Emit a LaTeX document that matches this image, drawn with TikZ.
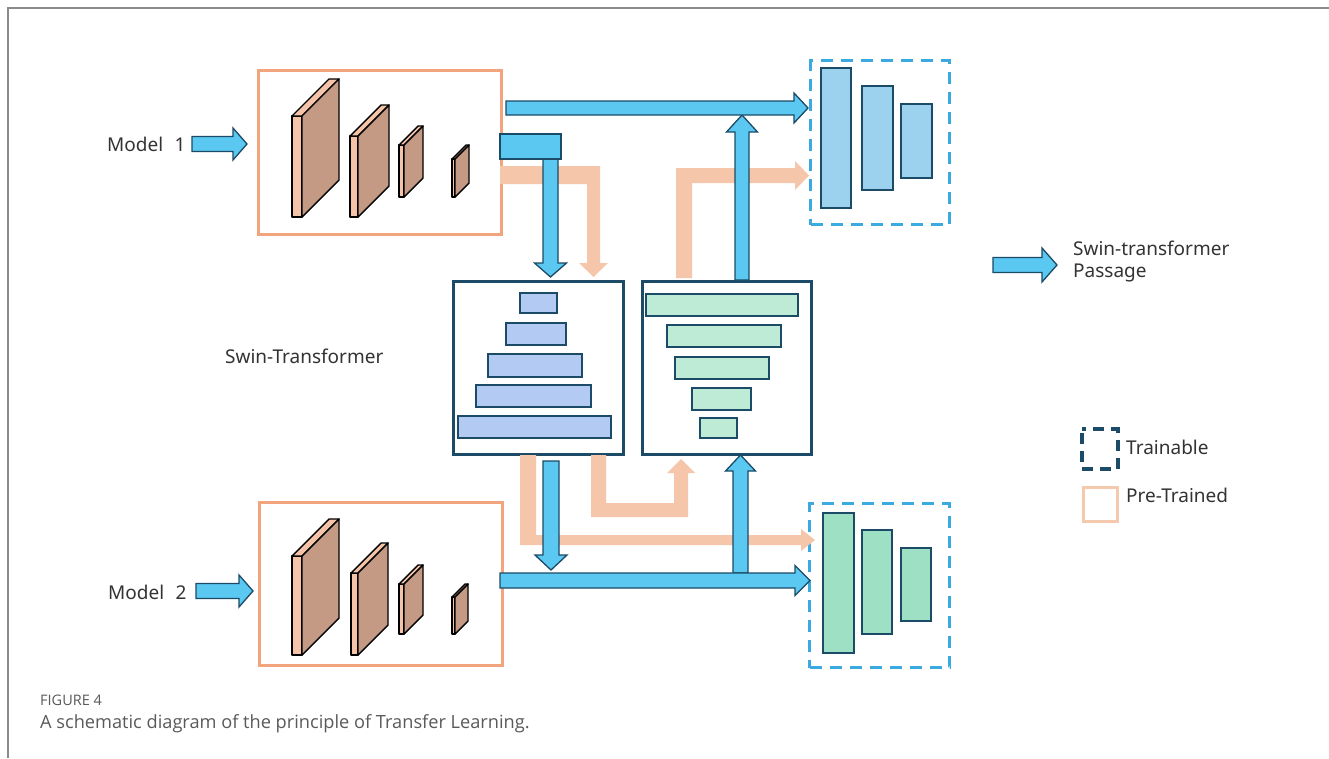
\documentclass[tikz,border=0pt]{standalone}
\usepackage{fontspec}
\setmainfont{Noto Sans}
\newfontfamily\capfont{Open Sans}
\definecolor{arrowblue}{HTML}{5BC8F2}
\definecolor{navy}{HTML}{1B4B66}
\definecolor{boxpeach}{HTML}{F2A57C}
\definecolor{flowpeach}{HTML}{F5C6AA}
\definecolor{layerpink}{HTML}{F5C3A8}
\definecolor{layerbrown}{HTML}{C49A85}
\definecolor{encbar}{HTML}{B3CBF2}
\definecolor{decbar}{HTML}{BDEBD5}
\definecolor{topbar}{HTML}{9DD2EE}
\definecolor{botbar}{HTML}{9EE0C3}
\definecolor{dashblue}{HTML}{3AAAE0}
\definecolor{legpeach}{HTML}{F5C9AE}
\definecolor{framegray}{HTML}{8A8A8A}
\definecolor{textdark}{HTML}{333333}
\definecolor{capgray}{HTML}{5A5A5A}
\tikzset{
  bluearrow/.style={fill=arrowblue, draw=navy, line width=1.3pt, line join=miter},
  peachflow/.style={fill=flowpeach, draw=none},
  modelbox/.style={draw=boxpeach, line width=3pt, anchor=north west, inner sep=0pt},
  swinbox/.style={draw=navy, line width=3pt, anchor=north west, inner sep=0pt},
  trainbox/.style={draw=dashblue, line width=3pt, dash pattern=on 12pt off 8pt, anchor=north west, inner sep=0pt},
  bar/.style={draw=navy, line width=1.3pt},
  layeredge/.style={draw=black, line width=1.4pt, line join=round},
  lbl/.style={font=\fontsize{19}{22}\selectfont, text=textdark, inner sep=0pt},
}
% block arrows: style, start, tip, cross-position, shaft half, head half, head length
\newcommand\RArrow[7]{\path[#1] (#2,{#4-#5}) -- ({#3-#7},{#4-#5}) -- ({#3-#7},{#4-#6}) -- (#3,#4) -- ({#3-#7},{#4+#6}) -- ({#3-#7},{#4+#5}) -- (#2,{#4+#5}) -- cycle;}
\newcommand\DArrow[7]{\path[#1] ({#4-#5},#2) -- ({#4-#5},{#3-#7}) -- ({#4-#6},{#3-#7}) -- (#4,#3) -- ({#4+#6},{#3-#7}) -- ({#4+#5},{#3-#7}) -- ({#4+#5},#2) -- cycle;}
\newcommand\UArrow[7]{\path[#1] ({#4-#5},#2) -- ({#4-#5},{#3+#7}) -- ({#4-#6},{#3+#7}) -- (#4,#3) -- ({#4+#6},{#3+#7}) -- ({#4+#5},{#3+#7}) -- ({#4+#5},#2) -- cycle;}
% cuboid layer: front x, front width, top y, height, depth
\newcommand\Layer[5]{%
  \path[layeredge, fill=layerpink] (#1,#3) rectangle ({#1+#2},{#3+#4});
  \path[layeredge, fill=layerpink] (#1,#3) -- ({#1+#5},{#3-#5}) -- ({#1+#2+#5},{#3-#5}) -- ({#1+#2},#3) -- cycle;
  \path[layeredge, fill=layerbrown] ({#1+#2},#3) -- ({#1+#2+#5},{#3-#5}) -- ({#1+#2+#5},{#3+#4-#5}) -- ({#1+#2},{#3+#4}) -- cycle;}
\begin{document}
\begin{tikzpicture}[x=1pt, y=-1pt]
\useasboundingbox (0,0) rectangle (1329,758);
\fill[white] (0,0) rectangle (1329,758);
% frame
\draw[framegray, line width=2pt] (8,758) -- (8,8) -- (1329,8);

% model boxes
\node[modelbox, minimum width=243pt, minimum height=164pt] (m1) at (257,69) {};
\node[modelbox, minimum width=243pt, minimum height=163pt] (m2) at (258,501) {};
\Layer{292}{10}{116}{101}{37}
\Layer{350}{8}{136}{81}{31}
\Layer{399}{5}{145}{52}{19}
\Layer{452}{3}{159}{38}{14}
\Layer{292}{10}{556}{99}{37}
\Layer{351}{7}{573}{82}{30}
\Layer{399}{5}{584}{50}{19}
\Layer{452}{3}{597}{37}{13}

% labels
\node[lbl, anchor=west] (l1) at (107,144) {Model\hspace{0.6em}1};
\node[lbl, anchor=west] (l2) at (108,592) {Model\hspace{0.6em}2};
\node[lbl, anchor=west] (lswin) at (225,356) {Swin-Transformer};

% input arrows
\RArrow{bluearrow}{192}{247}{144}{7.5}{16}{14}
\RArrow{bluearrow}{196}{253}{591}{7.5}{16}{14}

% swin boxes
\node[swinbox, minimum width=170pt, minimum height=173pt] (enc) at (452,280) {};
\node[swinbox, minimum width=169pt, minimum height=173pt] (dec) at (641,280) {};
% encoder bars
\draw[bar, fill=encbar] (520,293) rectangle (557,313);
\draw[bar, fill=encbar] (506,323) rectangle (566,345);
\draw[bar, fill=encbar] (488,354) rectangle (582,377);
\draw[bar, fill=encbar] (476,385) rectangle (591,407);
\draw[bar, fill=encbar] (458,416) rectangle (611,438);
% decoder bars
\draw[bar, fill=decbar] (646,294) rectangle (798,316);
\draw[bar, fill=decbar] (667,325) rectangle (781,347);
\draw[bar, fill=decbar] (675,357) rectangle (769,379);
\draw[bar, fill=decbar] (692,388) rectangle (751,410);
\draw[bar, fill=decbar] (700,418) rectangle (737,438);

% trainable heads
\node[trainbox, minimum width=139pt, minimum height=164pt] (t1) at (809,59) {};
\node[trainbox, minimum width=140pt, minimum height=164pt] (t2) at (808,502) {};
\draw[bar, fill=topbar] (821,68) rectangle (851,208);
\draw[bar, fill=topbar] (862,86) rectangle (893,190);
\draw[bar, fill=topbar] (901,104) rectangle (932,178);
\draw[bar, fill=botbar] (823,513) rectangle (854,653);
\draw[bar, fill=botbar] (862,530) rectangle (892,634);
\draw[bar, fill=botbar] (901,548) rectangle (931,621);

% peach (pre-trained) flows
\path[peachflow] (500,166) -- (600,166) -- (600,263) -- (608,263) -- (593.5,277) -- (579,263) -- (587,263) -- (587,184) -- (500,184) -- cycle;
\path[peachflow] (676,278) -- (676,168) -- (795,168) -- (795,161) -- (809,175.5) -- (795,190) -- (795,183) -- (692,183) -- (692,278) -- cycle;
\path[peachflow] (520,455) -- (536,455) -- (536,535) -- (801,535) -- (801,529) -- (815,540) -- (801,551) -- (801,545) -- (520,545) -- cycle;
\path[peachflow] (591,455) -- (606,455) -- (606,503) -- (674,503) -- (674,473) -- (667,473) -- (681,459) -- (695,473) -- (688,473) -- (688,517) -- (591,517) -- cycle;

% blue (swin-transformer passage) flows, top
\DArrow{bluearrow}{159}{277}{550.5}{7.5}{16}{14}
\draw[bluearrow] (500,134) rectangle (561,159);
\UArrow{bluearrow}{280}{115}{742}{7}{15.5}{17}
\RArrow{bluearrow}{506}{808}{108}{7}{15}{14}
% bottom
\DArrow{bluearrow}{461}{570}{551}{8}{16}{15}
\UArrow{bluearrow}{573}{455}{740.5}{7.5}{15}{16}
\RArrow{bluearrow}{500}{810}{580.5}{7.5}{15}{15}

% legend
\RArrow{bluearrow}{993}{1057}{265}{7.5}{17}{15}
\node[lbl, anchor=north west, align=left] (lpass) at (1073,241) {Swin-transformer\\Passage};
\draw[navy, line width=3.5pt, dash pattern=on 11pt off 7pt, dash phase=-4pt] (1082,429) rectangle (1118,469);
\node[lbl, anchor=west] (ltrain) at (1126,447) {Trainable};
\draw[legpeach, line width=3pt] (1083,487) rectangle (1117,521);
\node[lbl, anchor=west] (lpre) at (1126,495) {Pre-Trained};

% caption
\node[anchor=west, inner sep=0pt, text=capgray, font=\capfont\fontsize{14.5}{16}\selectfont] (fig) at (40,700) {FIGURE 4};
\node[anchor=west, inner sep=0pt, text=capgray, font=\capfont\fontsize{18.2}{21}\selectfont] (cap) at (40,724) {A schematic diagram of the principle of Transfer Learning.};
\end{tikzpicture}
\end{document}
